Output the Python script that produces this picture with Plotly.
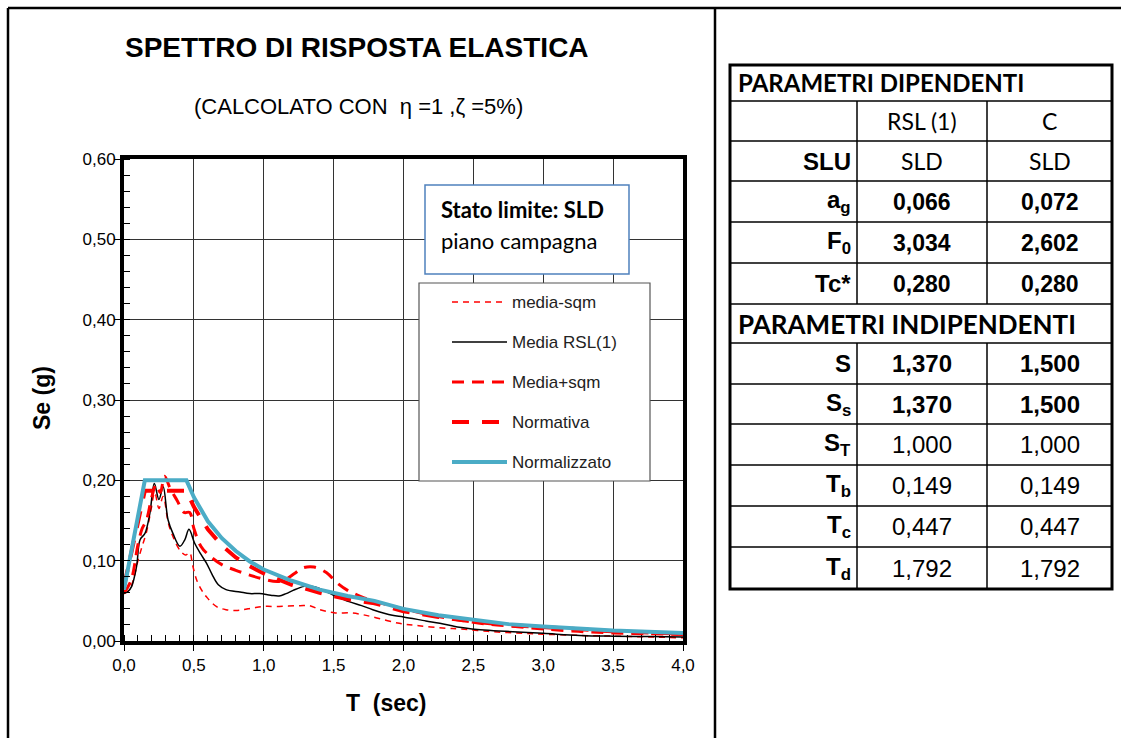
import plotly.graph_objects as go

# ---------------- spectra (T in s, Se in g) ----------------
t_media = [0.00, 0.03, 0.055, 0.09, 0.115, 0.15, 0.185, 0.217, 0.25, 0.28, 0.315, 0.35, 0.40, 0.435,
           0.465, 0.505, 0.55, 0.59, 0.63, 0.675, 0.73, 0.83, 0.90, 0.97, 1.05, 1.11, 1.16, 1.21, 1.29,
           1.35, 1.39, 1.45, 1.50, 1.61, 1.70, 1.78, 1.92, 2.00, 2.16, 2.26, 2.40, 2.49, 2.73, 3.00,
           3.26, 3.50, 3.75, 4.00]
se_media = [0.059, 0.062, 0.068, 0.093, 0.126, 0.134, 0.159, 0.196, 0.176, 0.192, 0.151, 0.134, 0.118,
            0.126, 0.139, 0.122, 0.108, 0.097, 0.083, 0.070, 0.064, 0.061, 0.059, 0.059, 0.057, 0.056,
            0.059, 0.063, 0.068, 0.068, 0.066, 0.061, 0.057, 0.049, 0.044, 0.039, 0.032, 0.030, 0.025,
            0.022, 0.017, 0.015, 0.012, 0.0095, 0.007, 0.006, 0.0055, 0.005]

t_minus = [0.00, 0.04, 0.067, 0.10, 0.13, 0.16, 0.19, 0.22, 0.25, 0.28, 0.317, 0.35, 0.40, 0.44, 0.47,
           0.49, 0.52, 0.56, 0.59, 0.66, 0.73, 0.80, 0.85, 0.92, 1.00, 1.11, 1.26, 1.33, 1.40, 1.51,
           1.62, 1.70, 1.78, 1.97, 2.11, 2.30, 2.40, 2.60, 2.80, 3.00, 3.25, 3.50, 3.75, 4.00]
se_minus = [0.059, 0.064, 0.076, 0.100, 0.118, 0.135, 0.160, 0.185, 0.165, 0.180, 0.147, 0.130, 0.113,
            0.107, 0.110, 0.095, 0.076, 0.062, 0.055, 0.043, 0.039, 0.038, 0.039, 0.041, 0.043, 0.043,
            0.044, 0.044, 0.039, 0.035, 0.035, 0.033, 0.030, 0.022, 0.019, 0.016, 0.015, 0.012, 0.010,
            0.0085, 0.007, 0.006, 0.005, 0.004]

t_plus = [0.00, 0.05, 0.10, 0.13, 0.16, 0.20, 0.23, 0.26, 0.29, 0.33, 0.38, 0.43, 0.47, 0.50, 0.55,
          0.60, 0.70, 0.80, 0.90, 1.00, 1.10, 1.16, 1.22, 1.28, 1.36, 1.45, 1.52, 1.60, 1.70, 1.80,
          2.00, 2.20, 2.40, 2.60, 2.80, 3.00, 3.25, 3.50, 3.75, 4.00]
se_plus = [0.060, 0.075, 0.120, 0.140, 0.150, 0.180, 0.195, 0.185, 0.205, 0.190, 0.175, 0.160, 0.160,
           0.140, 0.118, 0.108, 0.095, 0.088, 0.082, 0.077, 0.074, 0.077, 0.084, 0.091, 0.092, 0.085,
           0.073, 0.063, 0.055, 0.049, 0.040, 0.032, 0.026, 0.021, 0.018, 0.015, 0.012, 0.010, 0.009,
           0.008]

t_code = [0.0, 0.149, 0.447, 0.5, 0.6, 0.7, 0.8, 0.9, 1.0, 1.2, 1.4, 1.6, 1.792, 2.0, 2.25, 2.5,
          2.75, 3.0, 3.5, 4.0]
se_normativa = [0.068, 0.187, 0.187, 0.167, 0.139, 0.119, 0.104, 0.093, 0.084, 0.070, 0.060, 0.052,
                0.047, 0.037, 0.030, 0.024, 0.020, 0.017, 0.012, 0.009]
se_normalizzato = [0.064, 0.200, 0.200, 0.179, 0.149, 0.128, 0.112, 0.099, 0.089, 0.075, 0.064, 0.056,
                   0.050, 0.040, 0.032, 0.026, 0.021, 0.018, 0.013, 0.010]

# ---------------- parameter table ----------------
dep_labels = ["a<sub>g</sub>", "F<sub>0</sub>", "Tc*"]
dep_rsl = [0.066, 3.034, 0.280]
dep_c = [0.072, 2.602, 0.280]
ind_labels = ["S", "S<sub>s</sub>", "S<sub>T</sub>", "T<sub>b</sub>", "T<sub>c</sub>", "T<sub>d</sub>"]
ind_rsl = [1.370, 1.370, 1.000, 0.149, 0.447, 1.792]
ind_c = [1.500, 1.500, 1.000, 0.149, 0.447, 1.792]
ind_bold = [True, True, False, False, False, False]

W, H = 1121, 738
PX0, PX1, PY0, PY1 = 124, 683, 159, 641   # plot area in pixels


def px(x):
    return (x - PX0) / (PX1 - PX0)


def py(y):
    return (PY1 - y) / (PY1 - PY0)


ARIAL = "Liberation Sans, Arial, sans-serif"
CALIB = "Lato, Carlito, Calibri, sans-serif"
RED = "#ff0000"
BLUE = "#4bacc6"

series = [
    ("media-sqm", t_minus, se_minus, dict(color=RED, width=1.5, dash="6px,5px"), "spline"),
    ("Media RSL(1)", t_media, se_media, dict(color="black", width=1.5), "spline"),
    ("Media+sqm", t_plus, se_plus, dict(color=RED, width=3, dash="12px,8px"), "spline"),
    ("Normativa", t_code, se_normativa, dict(color=RED, width=4, dash="17px,13px"), "linear"),
    ("Normalizzato", t_code, se_normalizzato, dict(color=BLUE, width=4), "linear"),
]

fig = go.Figure()
for name, xs, ys, line, shape in series:
    fig.add_trace(go.Scatter(x=xs, y=ys, mode="lines", name=name, line=dict(shape=shape, **line),
                             showlegend=False))

fig.update_layout(
    width=W, height=H,
    margin=dict(l=PX0, r=W - PX1, t=PY0, b=H - PY1),
    paper_bgcolor="white", plot_bgcolor="white",
    separators=",.",
    font=dict(family=ARIAL, color="black"),
    xaxis=dict(range=[0, 4], dtick=0.5, tickformat=".1f", showgrid=True, gridcolor="#333",
               gridwidth=1, showline=True, linecolor="black", linewidth=4, mirror=True,
               ticks="outside", ticklen=6, tickcolor="black", tickfont=dict(size=17),
               minor=dict(dtick=0.1, ticks="inside", ticklen=6, tickcolor="black", showgrid=False),
               zeroline=False, fixedrange=True),
    yaxis=dict(range=[0, 0.6], dtick=0.1, tickformat=".2f", showgrid=True, gridcolor="#333",
               gridwidth=1, showline=True, linecolor="black", linewidth=4, mirror=True,
               ticks="outside", ticklen=6, tickcolor="black", tickfont=dict(size=17),
               ticklabelstandoff=-5,
               minor=dict(dtick=0.02, ticks="inside", ticklen=6, tickcolor="black", showgrid=False),
               zeroline=False, fixedrange=True),
)

shapes = []
ann = []


def line(x0, y0, x1, y1, color="black", width=1.0, dash=None):
    d = dict(type="line", xref="paper", yref="paper", x0=px(x0), y0=py(y0), x1=px(x1), y1=py(y1),
             line=dict(color=color, width=width))
    if dash:
        d["line"]["dash"] = dash
    shapes.append(d)


def rect(x0, y0, x1, y1, color, width, fill="white"):
    shapes.append(dict(type="rect", xref="paper", yref="paper", x0=px(x0), y0=py(y1), x1=px(x1),
                       y1=py(y0), line=dict(color=color, width=width), fillcolor=fill))


def text(x, y, s, size, family=ARIAL, xanchor="center", color="black"):
    ann.append(dict(xref="paper", yref="paper", x=px(x), y=py(y), text=s, showarrow=False,
                    xanchor=xanchor, yanchor="middle", font=dict(size=size, family=family, color=color)))


# page frame
line(8, 8, 8, 738, width=2.5)
line(8, 8, 1121, 8, width=2.5)
line(715, 8, 715, 738, width=2.5)

# titles
text(357, 48, "<b>SPETTRO DI RISPOSTA ELASTICA</b>", 28)
text(358, 107, "(CALCOLATO CON  η =1 ,ζ =5%)", 22)
text(386, 703, "<b>T  (sec)</b>", 23)
ann.append(dict(xref="paper", yref="paper", x=px(42), y=py(398), text="<b>Se (g)</b>", showarrow=False,
                textangle=-90, xanchor="center", yanchor="middle", font=dict(size=23, family=ARIAL)))

# limit-state box
rect(425, 185, 629, 274, "#4f81bd", 1.5)
text(439, 210, "<b>Stato limite: SLD</b>", 22, CALIB, "left")
text(439, 240, "piano campagna", 22, CALIB, "left")

# legend box
rect(419, 283, 650, 481, "#555555", 1.2)
leg_y = [302, 342, 382, 422, 462]
for (name, _, _, ln, _), yy in zip(series, leg_y):
    line(452, yy, 507, yy, color=ln["color"], width=ln["width"], dash=ln.get("dash"))
    text(510, yy, name, 17, ARIAL, "left", "#222")

# parameter table
TX = [730, 857, 987, 1112]
TY = [65, 101, 141, 181, 222, 263, 304, 343, 384, 424, 465, 506, 547, 589]
for yy in TY[1:-1]:
    line(TX[0], yy, TX[3], yy, width=1.5)
for xx in TX[1:3]:
    line(xx, TY[1], xx, TY[6], width=1.5)
    line(xx, TY[7], xx, TY[-1], width=1.5)
shapes.append(dict(type="rect", xref="paper", yref="paper", x0=px(TX[0]), x1=px(TX[3]), y0=py(TY[-1]),
                   y1=py(TY[0]), line=dict(color="black", width=3)))


def mid(i):
    return (TY[i] + TY[i + 1]) / 2


def fmt(v):
    return f"{v:.3f}".replace(".", ",")


c1, c2 = (TX[1] + TX[2]) / 2, (TX[2] + TX[3]) / 2
lab_x = TX[1] - 4
text(TX[0] + 6, mid(0), "<b>PARAMETRI DIPENDENTI</b>", 24, CALIB, "left")
text(c1, mid(1), "RSL (1)", 23, CALIB)
text(c2, mid(1), "C", 23, CALIB)
text(lab_x, mid(2), "<b>SLU</b>", 24, ARIAL, "right")
text(c1, mid(2), "SLD", 23, CALIB)
text(c2, mid(2), "SLD", 23, CALIB)
for i, (lab, a, b) in enumerate(zip(dep_labels, dep_rsl, dep_c)):
    r = 3 + i
    text(lab_x, mid(r), f"<b>{lab}</b>", 24, ARIAL, "right")
    text(c1, mid(r), f"<b>{fmt(a)}</b>", 23)
    text(c2, mid(r), f"<b>{fmt(b)}</b>", 23)
text(TX[0] + 6, mid(6), "<b>PARAMETRI INDIPENDENTI</b>", 26, CALIB, "left")
for i, (lab, a, b, bold) in enumerate(zip(ind_labels, ind_rsl, ind_c, ind_bold)):
    r = 7 + i
    text(lab_x, mid(r), f"<b>{lab}</b>", 24, ARIAL, "right")
    sa, sb = fmt(a), fmt(b)
    if bold:
        sa, sb = f"<b>{sa}</b>", f"<b>{sb}</b>"
    text(c1, mid(r), sa, 24)
    text(c2, mid(r), sb, 24)

fig.update_layout(shapes=shapes, annotations=ann)
fig.write_html("out.html")
